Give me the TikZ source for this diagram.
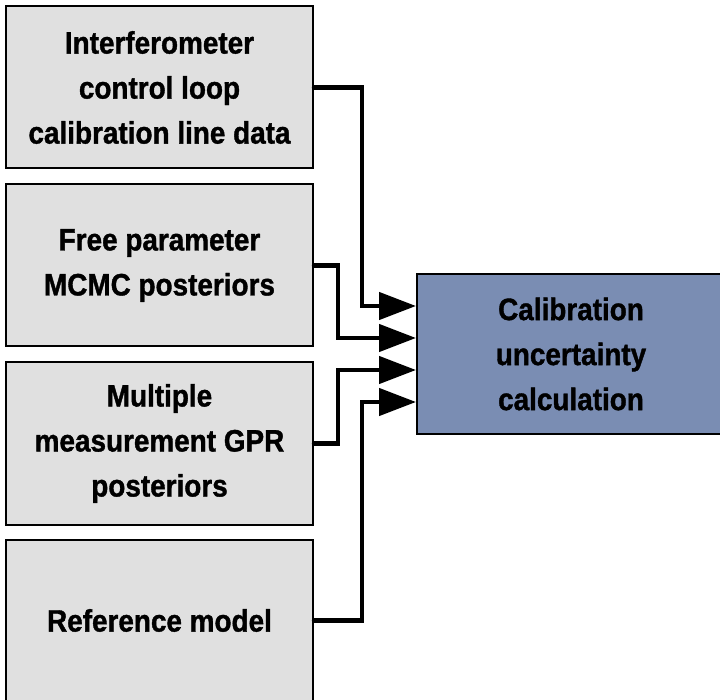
\documentclass[tikz,border=0pt]{standalone}
\usepackage{fontspec}
\setmainfont{Liberation Sans}
\newfontfamily\boxfont{Liberation Sans}[FakeStretch=0.9,FakeBold=1.2]
\usetikzlibrary{arrows.meta,calc}
\definecolor{boxgray}{RGB}{224,224,224}
\definecolor{calcblue}{RGB}{122,141,179}
\begin{document}
\begin{tikzpicture}[x=1pt,y=-1pt,
  boxtext/.style={align=center, inner sep=0pt,
    font=\boxfont\bfseries\fontsize{31}{45}\selectfont},
  src/.style={boxtext, draw=black, line width=2pt, fill=boxgray,
    minimum width=307pt, minimum height=162pt},
  sink/.style={boxtext, draw=black, line width=2pt, fill=calcblue,
    minimum width=308pt, minimum height=160pt},
  conn/.style={line width=4.5pt, line cap=round, line join=miter,
    -{Triangle[length=37pt,width=27pt]}}]
\useasboundingbox (0,0) rectangle (720,700);
\clip (0,0) rectangle (720,700);

% input boxes
\node[src] (b1) at (159.5,87.5) {Interferometer\\control loop\\calibration line data};
\node[src] (b2) at (159.5,265.5) {Free parameter\\MCMC posteriors};
\node[src] (b3) at (159.5,443.5) {Multiple\\measurement GPR\\posteriors};
\node[src] (b4) at (159.5,620.5) {Reference model};

% output box
\node[sink] (calc) at (571,354) {Calibration\\uncertainty\\calculation};

% entry points on the output box and bends of the connectors
\coordinate (in1) at ($(calc.west)+(0,-48)$);
\coordinate (in2) at ($(calc.west)+(0,-16)$);
\coordinate (in3) at ($(calc.west)+(0,16)$);
\coordinate (in4) at ($(calc.west)+(0,48)$);
\coordinate (j1) at (362,0);
\coordinate (j2) at (338,0);
\coordinate (j3) at (338,0);
\coordinate (j4) at (362,0);

\draw[conn] (b1.east) -| (j1 |- in1) -- (in1);
\draw[conn] (b2.east) -| (j2 |- in2) -- (in2);
\draw[conn] (b3.east) -| (j3 |- in3) -- (in3);
\draw[conn] (b4.east) -| (j4 |- in4) -- (in4);
\end{tikzpicture}
\end{document}
